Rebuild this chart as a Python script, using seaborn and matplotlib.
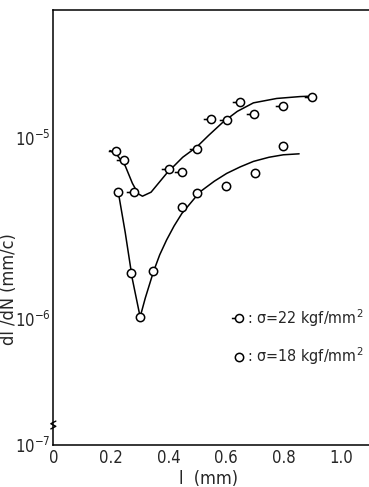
import numpy as np
import matplotlib
matplotlib.use("Agg")
import matplotlib.pyplot as plt
from matplotlib.path import Path
from matplotlib.lines import Line2D
from matplotlib.ticker import FixedLocator, NullFormatter
import seaborn as sns

# measured points, sigma = 22 kgf/mm2
l_22 = [0.218, 0.247, 0.281, 0.403, 0.447, 0.499, 0.548, 0.603, 0.650, 0.698, 0.800, 0.899]
rate_22 = [8.5e-6, 7.5e-6, 5.0e-6, 6.7e-6, 6.5e-6, 8.7e-6, 1.27e-5, 1.26e-5, 1.57e-5, 1.36e-5, 1.49e-5, 1.68e-5]

# measured points, sigma = 18 kgf/mm2
l_18 = [0.226, 0.270, 0.302, 0.348, 0.447, 0.499, 0.601, 0.700, 0.800]
rate_18 = [5.0e-6, 1.79e-6, 1.02e-6, 1.84e-6, 4.15e-6, 4.92e-6, 5.42e-6, 6.35e-6, 9.0e-6]

# hand-drawn trend curves
curve_l_22 = [0.197, 0.220, 0.250, 0.275, 0.295, 0.310, 0.340, 0.394, 0.450, 0.499, 0.540, 0.590,
              0.640, 0.696, 0.777, 0.858, 0.899]
curve_r_22 = [8.5e-6, 8.1e-6, 7.0e-6, 5.6e-6, 4.9e-6, 4.75e-6, 5.0e-6, 6.35e-6, 7.8e-6, 8.9e-6, 1.03e-5,
              1.22e-5, 1.40e-5, 1.56e-5, 1.65e-5, 1.69e-5, 1.70e-5]
curve_l_18 = [0.226, 0.250, 0.275, 0.302, 0.320, 0.348, 0.370, 0.394, 0.420, 0.447, 0.510, 0.560,
              0.603, 0.650, 0.696, 0.750, 0.800, 0.855]
curve_r_18 = [5.0e-6, 3.0e-6, 1.65e-6, 1.02e-6, 1.3e-6, 1.81e-6, 2.25e-6, 2.72e-6, 3.25e-6, 3.81e-6,
              5.02e-6, 5.75e-6, 6.35e-6, 6.9e-6, 7.4e-6, 7.8e-6, 8.05e-6, 8.15e-6]

legend_labels = [": \u03c3=22 kgf/mm$^2$", ": \u03c3=18 kgf/mm$^2$"]

sns.set_style("white")
plt.rcParams["font.family"] = ["DejaVu Sans"]
plt.rcParams["font.stretch"] = "condensed"
plt.rcParams["mathtext.fontset"] = "dejavusans"

fig = plt.figure(figsize=(3.69, 4.87), dpi=100)
ax = fig.add_axes([0.1445, 0.0862, 0.8555, 0.8933])

# circle with a small dash on its left side
dash_circle = Path.make_compound_path(
    Path.unit_circle(),
    Path([(-1.9, 0.0), (-1.0, 0.0)], [Path.MOVETO, Path.LINETO]),
)

sns.lineplot(x=curve_l_22, y=curve_r_22, sort=False, estimator=None, color="black", lw=1.1, ax=ax)
sns.lineplot(x=curve_l_18, y=curve_r_18, sort=False, estimator=None, color="black", lw=1.1, ax=ax)
ax.scatter(l_22, rate_22, marker=dash_circle, s=125, facecolors="white", edgecolors="black", linewidths=1.1, zorder=3)
ax.scatter(l_18, rate_18, marker="o", s=36, facecolors="white", edgecolors="black", linewidths=1.1, zorder=3)

ax.set_yscale("log")
ymin = 10 ** -6.70
ax.set_xlim(0, 1.098)
ax.set_ylim(ymin, 10 ** -4.293)

ax.set_xticks([0, 0.2, 0.4, 0.6, 0.8, 1.0])
ax.set_xticklabels(["0", "0.2", "0.4", "0.6", "0.8", "1.0"])
ax.xaxis.set_minor_locator(FixedLocator([0.1, 0.3, 0.5, 0.7, 0.9]))
ax.yaxis.set_major_locator(FixedLocator([ymin, 1e-6, 1e-5]))
ax.set_yticklabels(["10$^{-7}$", "10$^{-6}$", "10$^{-5}$"])
ax.yaxis.set_minor_locator(FixedLocator([5e-7, 5e-6]))
ax.yaxis.set_minor_formatter(NullFormatter())

ax.tick_params(axis="both", which="both", direction="in", color="black", labelsize=12, pad=2)
ax.tick_params(axis="x", which="both", length=4)
ax.tick_params(axis="y", which="major", length=7)
ax.tick_params(axis="y", which="minor", length=6)
ax.tick_params(axis="x", which="major", pad=3)

for side in ["left", "bottom", "top"]:
    ax.spines[side].set_color("black")
    ax.spines[side].set_linewidth(1.1)
ax.spines["right"].set_visible(False)

ax.set_xlabel("l  (mm)", fontsize=13)
ax.set_ylabel("dl /dN (mm/c)", fontsize=13)
ax.xaxis.set_label_coords(0.49, -0.057)
ax.yaxis.set_label_coords(-0.112, 0.359)

# axis break mark near the bottom of the y axis
ax.plot([-0.008, 0.008, -0.008, 0.008], [0.037, 0.043, 0.049, 0.055], transform=ax.transAxes,
        color="black", lw=1.0, clip_on=False)

handles = [
    Line2D([], [], marker=dash_circle, ls="none", ms=11, mfc="white", mec="black", mew=1.1),
    Line2D([], [], marker="o", ls="none", ms=6, mfc="white", mec="black", mew=1.1),
]
ax.legend(handles, legend_labels, loc="center left", bbox_to_anchor=(0.545, 0.248), frameon=False,
          fontsize=11.5, handlelength=0.9, handletextpad=0.05, labelspacing=1.05, borderaxespad=0)

fig.savefig("out.png", dpi=100)
